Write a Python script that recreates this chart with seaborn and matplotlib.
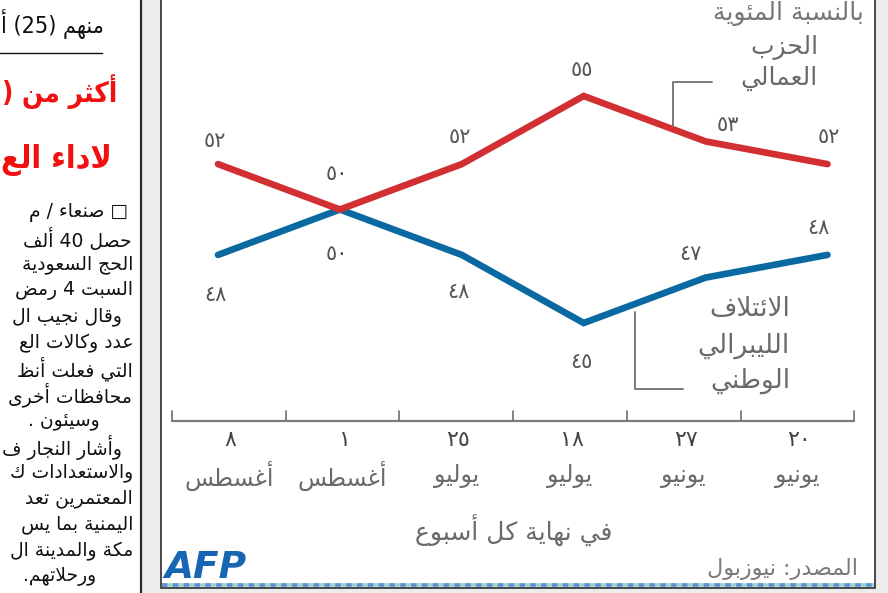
import numpy as np
import pandas as pd
import matplotlib
matplotlib.use("Agg")
import matplotlib.pyplot as plt
from matplotlib.patches import Rectangle
import seaborn as sns

# ---------------- data ----------------
day_labels = ['٨', '١', '٢٥', '١٨', '٢٧', '٢٠']
month_labels = ['أغسطس', 'أغسطس', 'يوليو', 'يوليو', 'يونيو', 'يونيو']
labor = [52, 50, 52, 55, 53, 52]
coalition = [48, 50, 48, 45, 47, 48]
labor_name = ['الحزب', 'العمالي']
coalition_name = ['الائتلاف', 'الليبرالي', 'الوطني']
unit_label = 'بالنسبة المئوية'
subtitle = 'في نهاية كل أسبوع'
source = 'المصدر: نيوزبول'

head_line = 'منهم (25) أ'
title_lines = ['أكثر من (', 'لاداء الع']
body_lines = ['□ صنعاء / م', 'حصل 40 ألف', 'الحج السعودية', 'السبت 4 رمض',
              'وقال نجيب ال', 'عدد وكالات الع', 'التي فعلت أنظ', 'محافظات أخرى',
              'وسيئون .', 'وأشار النجار ف', 'والاستعدادات ك', 'المعتمرين تعد',
              'اليمنية بما يس', 'مكة والمدينة ال', 'ورحلاتهم.']

# ---------------- minimal Arabic shaping ----------------
_BASE = {
    'ء': (0xFE80, 1), 'آ': (0xFE81, 2), 'أ': (0xFE83, 2), 'ؤ': (0xFE85, 2), 'إ': (0xFE87, 2),
    'ئ': (0xFE89, 4), 'ا': (0xFE8D, 2), 'ب': (0xFE8F, 4), 'ة': (0xFE93, 2), 'ت': (0xFE95, 4),
    'ث': (0xFE99, 4), 'ج': (0xFE9D, 4), 'ح': (0xFEA1, 4), 'خ': (0xFEA5, 4), 'د': (0xFEA9, 2),
    'ذ': (0xFEAB, 2), 'ر': (0xFEAD, 2), 'ز': (0xFEAF, 2), 'س': (0xFEB1, 4), 'ش': (0xFEB5, 4),
    'ص': (0xFEB9, 4), 'ض': (0xFEBD, 4), 'ط': (0xFEC1, 4), 'ظ': (0xFEC5, 4), 'ع': (0xFEC9, 4),
    'غ': (0xFECD, 4), 'ف': (0xFED1, 4), 'ق': (0xFED5, 4), 'ك': (0xFED9, 4), 'ل': (0xFEDD, 4),
    'م': (0xFEE1, 4), 'ن': (0xFEE5, 4), 'ه': (0xFEE9, 4), 'و': (0xFEED, 2), 'ى': (0xFEEF, 2),
    'ي': (0xFEF1, 4),
}
_LAM_ALEF = {'آ': 0xFEF5, 'أ': 0xFEF7, 'إ': 0xFEF9, 'ا': 0xFEFB}
_MIRROR = {'(': ')', ')': '('}
_AR_DIGITS = '٠١٢٣٤٥٦٧٨٩'


def _shape(s):
    toks = []
    i = 0
    while i < len(s):
        c = s[i]
        if c == 'ل' and i + 1 < len(s) and s[i + 1] in _LAM_ALEF:
            toks.append(('LA', s[i + 1]))
            i += 2
        else:
            toks.append(('C', c))
            i += 1

    def joinable(t):
        return t[0] == 'LA' or (t[1] in _BASE and t[1] != 'ء')

    def joins_next(t):
        return t[0] == 'C' and t[1] in _BASE and _BASE[t[1]][1] == 4

    out = []
    for k, t in enumerate(toks):
        prev_j = k > 0 and joins_next(toks[k - 1]) and joinable(t)
        if t[0] == 'LA':
            out.append(chr(_LAM_ALEF[t[1]] + (1 if prev_j else 0)))
            continue
        c = t[1]
        if c not in _BASE:
            out.append(c)
            continue
        base, nf = _BASE[c]
        if nf == 1:
            out.append(chr(base))
            continue
        if nf == 2:
            out.append(chr(base + (1 if prev_j else 0)))
            continue
        next_j = k + 1 < len(toks) and joinable(toks[k + 1])
        if prev_j and next_j:
            out.append(chr(base + 3))
        elif prev_j:
            out.append(chr(base + 1))
        elif next_j:
            out.append(chr(base + 2))
        else:
            out.append(chr(base))
    return ''.join(out)


def ar(s):
    rev = _shape(s)[::-1]

    def ltr(ch):
        return (ch.isascii() and ch.isalnum()) or ch in _AR_DIGITS

    res = ''
    i = 0
    while i < len(rev):
        if ltr(rev[i]):
            j = i
            while j < len(rev) and ltr(rev[j]):
                j += 1
            res += rev[i:j][::-1]
            i = j
        else:
            res += _MIRROR.get(rev[i], rev[i])
            i += 1
    return res


# ---------------- figure ----------------
sns.set_theme(style="white")
plt.rcParams['font.family'] = ['DejaVu Sans']

W, H = 888, 593
fig = plt.figure(figsize=(W / 100, H / 100), dpi=100)
fig.patch.set_facecolor('white')

# background / frame layer (pixel coordinates)
bg = fig.add_axes([0, 0, 1, 1])
bg.set_xlim(0, W)
bg.set_ylim(H, 0)
bg.set_axis_off()
bg.add_patch(Rectangle((142, -5), W - 142 + 5, H + 10, facecolor='#ececec', edgecolor='none'))
bg.add_patch(Rectangle((161, -5), 875 - 161, 588 + 5, facecolor='white', edgecolor='#3a3a3a', lw=1.3))
bg.plot([141, 141], [-5, H + 5], color='#2a2a2a', lw=1.6)

# data layer: positions mapped so that pixels match the reference
x0_px, dx_px = 218.0, 121.9
y50_px, dy_px = 209.5, 22.7
ax = fig.add_axes([0, 0, 1, 1])
ax.set_xlim(-x0_px / dx_px, (W - x0_px) / dx_px)
ax.set_ylim(50 - (H - y50_px) / dy_px, 50 + y50_px / dy_px)
ax.set_axis_off()
ax.patch.set_alpha(0)

red = '#d22f33'
blue = '#0a69a1'
lab_red = ' '.join(labor_name)
lab_blue = ' '.join(coalition_name)
df = pd.DataFrame({
    'pos': list(range(len(labor))) * 2,
    'value': coalition + labor,
    'party': [lab_blue] * len(coalition) + [lab_red] * len(labor),
})
sns.lineplot(data=df, x='pos', y='value', hue='party', hue_order=[lab_blue, lab_red],
             palette={lab_red: red, lab_blue: blue}, linewidth=4.8, legend=False,
             sort=False, ax=ax, solid_joinstyle='miter')

# value labels (offsets in pixels)
red_off = [(-3, 23), (-3, 36), (-2, 27), (-2, 26), (22, 16), (1, 27)]
blue_off = [(-3, -40), (-3, -44), (-3, -37), (-2, -39), (-15, 24), (-9, 27)]
digits = str.maketrans('0123456789', _AR_DIGITS)
for i, v in enumerate(labor):
    ax.annotate(str(v).translate(digits), (i, v), xytext=red_off[i], textcoords='offset pixels',
                ha='center', va='center', fontsize=15, color='#555555')
for i, v in enumerate(coalition):
    ax.annotate(str(v).translate(digits), (i, v), xytext=blue_off[i], textcoords='offset pixels',
                ha='center', va='center', fontsize=15, color='#555555')

# annotation layer (pixel coordinates)
ov = fig.add_axes([0, 0, 1, 1])
ov.set_xlim(0, W)
ov.set_ylim(H, 0)
ov.set_axis_off()
ov.patch.set_alpha(0)

gray_txt = '#6a6a6a'
# category axis
ticks = [172 + 113.7 * k for k in range(len(day_labels) + 1)]
ov.plot([ticks[0], ticks[-1]], [421, 421], color='#7a7a7a', lw=1.6)
for t in ticks:
    ov.plot([t, t], [411, 421], color='#7a7a7a', lw=1.3)
for k, (d, m) in enumerate(zip(day_labels, month_labels)):
    cx = (ticks[k] + ticks[k + 1]) / 2
    ov.text(cx + 2, 440, d, ha='center', va='center', fontsize=16, color='#444444')
    ov.text(cx, 476, ar(m), ha='center', va='center', fontsize=17, color=gray_txt)
ov.text(514, 530, ar(subtitle), ha='center', va='center', fontsize=18, color=gray_txt)

# legends / brackets
ov.text(864, 14, ar(unit_label), ha='right', va='center', fontsize=18, color='#777777')
ov.text(818, 47, ar(labor_name[0]), ha='right', va='center', fontsize=18, color=gray_txt)
ov.text(818, 78, ar(labor_name[1]), ha='right', va='center', fontsize=18, color=gray_txt)
ov.plot([712, 673, 673], [82, 82, 126], color='#7a7a7a', lw=1.4)

for j, (name, yy) in enumerate(zip(coalition_name, [309, 346, 381])):
    ov.text(790, yy, ar(name), ha='right', va='center', fontsize=19, color=gray_txt)
ov.plot([635, 635, 683], [312, 389, 389], color='#7a7a7a', lw=1.4)

ov.text(858, 569, ar(source), ha='right', va='center', fontsize=16, color='#7a7a7a')
ov.text(164, 568, 'AFP', ha='left', va='center', fontsize=27, fontweight='bold',
        fontstyle='italic', color='#1766b4')
ov.plot([162, 874], [585, 585], color='#9fd0d0', lw=2.6, solid_capstyle='butt')
ov.plot([162, 874], [585, 585], color='#5f92d2', lw=2.6, dashes=(1.5, 1.5))

# left newspaper column (shrink each text until it fits inside the page)
renderer = fig.canvas.get_renderer()


def fit(t, min_x=0.5):
    while t.get_window_extent(renderer).x0 < min_x and t.get_fontsize() > 6:
        t.set_fontsize(t.get_fontsize() - 0.25)
    return t.get_fontsize()


fit(ov.text(104, 24, ar(head_line), ha='right', va='center', fontsize=24,
            fontstretch='condensed', color='#111111'))
ov.plot([0, 102], [53, 53], color='#111111', lw=1.0)
fit(ov.text(117, 92, ar(title_lines[0]), ha='right', va='center', fontsize=30,
            fontweight='heavy', fontstretch='condensed', color='#f01010'))
fit(ov.text(112, 160, ar(title_lines[1]), ha='right', va='center', fontsize=30,
            fontweight='heavy', fontstretch='condensed', color='#f01010'))
body_right = [128, 132, 133, 133, 122, 133, 133, 132, 100, 122, 133, 133, 133, 133, 96]
body_texts = [ov.text(body_right[k], 213 + 26 * k, ar(line), ha='right', va='center',
                      fontsize=14.5, color='#111111') for k, line in enumerate(body_lines)]
size = min(fit(t) for t in body_texts)
for t in body_texts:
    t.set_fontsize(size)

fig.savefig('out.png', dpi=100)
